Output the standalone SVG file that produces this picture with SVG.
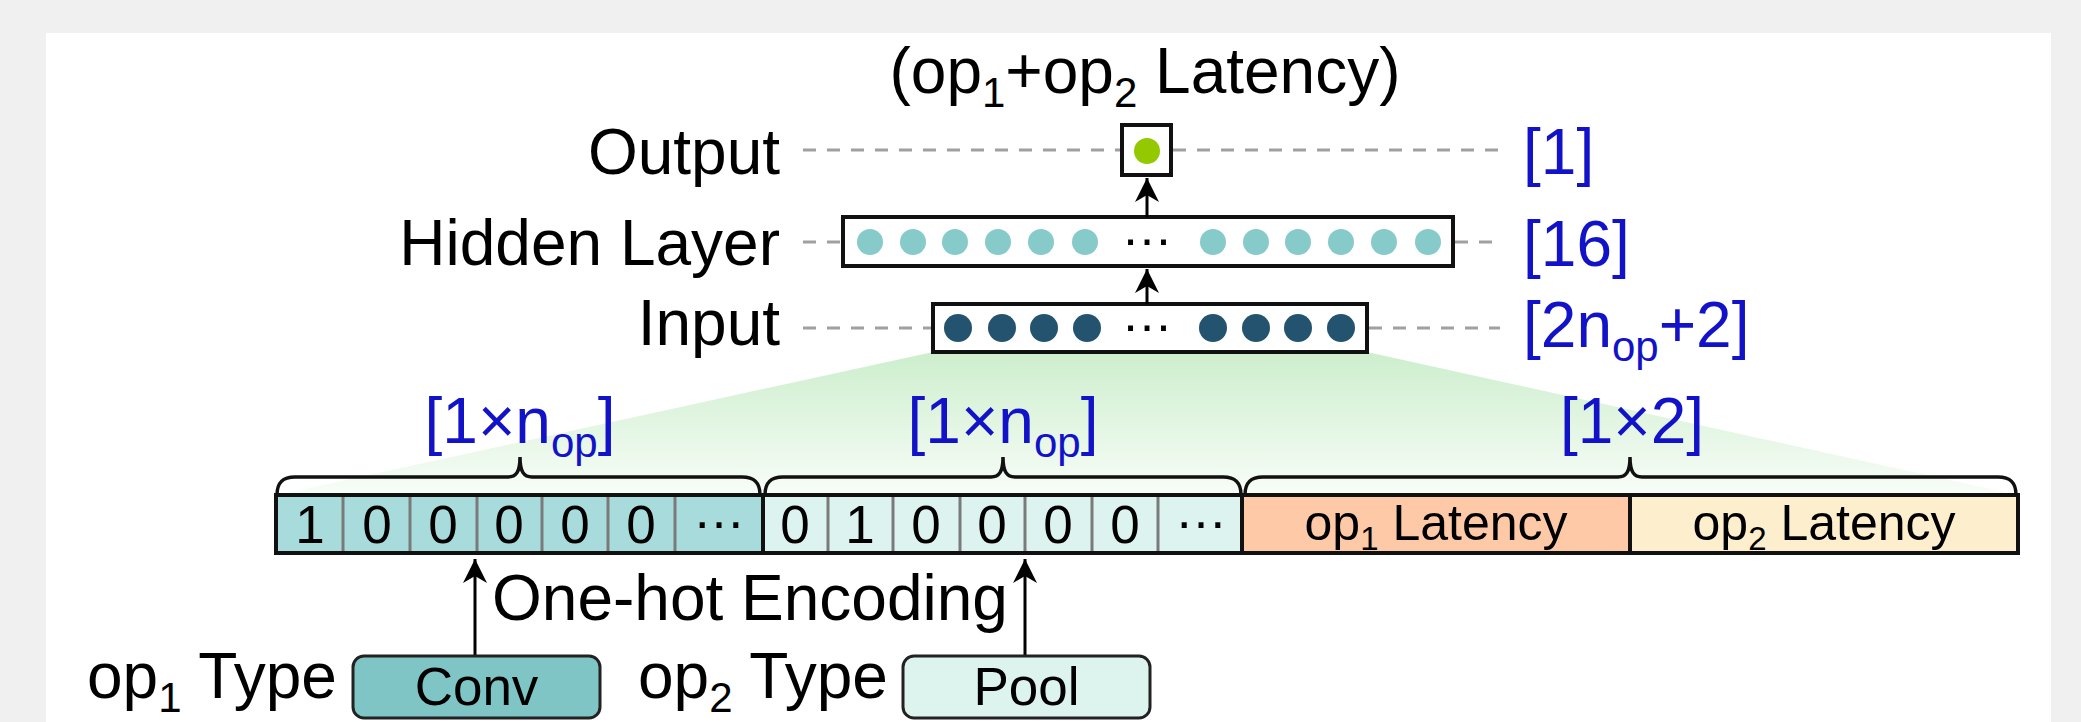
<svg xmlns="http://www.w3.org/2000/svg" width="2081" height="722" viewBox="0 0 2081 722">
<defs>
<linearGradient id="fan" gradientUnits="userSpaceOnUse" x1="0" y1="352" x2="0" y2="495">
<stop offset="0" stop-color="#cdeecd"/>
<stop offset="1" stop-color="#f8fdf8"/>
</linearGradient>
<marker id="arrow" markerUnits="userSpaceOnUse" markerWidth="26" markerHeight="26" viewBox="0 0 26 26" refX="24" refY="13" orient="auto">
<path d="M0,1 L24,13 L0,25 L7,13 z" fill="#000"/>
</marker>
<style>
text{font-family:"Liberation Sans",Arial,sans-serif;}
.lbl{font-size:64px;fill:#000}
.blue{font-size:64px;fill:#1212c8}
.dash{stroke:#a0a0a0;stroke-width:3;stroke-dasharray:13 11;fill:none}
.layer{fill:#fff;stroke:#111;stroke-width:4}
.hd{fill:#86caca}
.in{fill:#24536f}
.ell{font-size:52px;fill:#000;text-anchor:middle}
.cell{font-size:53px;fill:#000;text-anchor:middle}
.lat{font-size:50px;fill:#000;text-anchor:middle}
.div{stroke:#7a7a7a;stroke-width:3}
.sep{stroke:#111;stroke-width:4}
.brace{fill:none;stroke:#111;stroke-width:3.5}
.conn{stroke:#000;stroke-width:3;fill:none;marker-end:url(#arrow)}
.type{stroke:#222;stroke-width:3}
</style>
</defs>

<g id="background">
<rect x="0" y="0" width="2081" height="722" fill="#f0f0f0"/>
<rect x="46" y="33" width="2005" height="689" fill="#ffffff"/>
</g>

<g id="fan-shading">
<polygon points="933,352 1367,352 2018,495 277,495" fill="url(#fan)"/>
</g>

<g id="title">
<text x="1145" y="93" text-anchor="middle" class="lbl">(op<tspan font-size="42" dy="14">1</tspan><tspan dy="-14">+op</tspan><tspan font-size="42" dy="14">2</tspan><tspan dy="-14"> Latency)</tspan></text>
</g>

<g id="layer-labels">
<text x="780" y="174" text-anchor="end" class="lbl">Output</text>
<text x="780" y="265" text-anchor="end" class="lbl">Hidden Layer</text>
<text x="780" y="345" text-anchor="end" class="lbl">Input</text>
</g>

<g id="guides">
<line class="dash" x1="803" y1="150" x2="1122" y2="150"/>
<line class="dash" x1="1173" y1="150" x2="1500" y2="150"/>
<line class="dash" x1="803" y1="242" x2="843" y2="242"/>
<line class="dash" x1="1455" y1="242" x2="1500" y2="242"/>
<line class="dash" x1="803" y1="328" x2="933" y2="328"/>
<line class="dash" x1="1369" y1="328" x2="1500" y2="328"/>
</g>

<g id="size-labels">
<text x="1523" y="174" class="blue">[1]</text>
<text x="1523" y="266" class="blue">[16]</text>
<text x="1523" y="347" class="blue">[2n<tspan font-size="42" dy="14">op</tspan><tspan dy="-14">+2]</tspan></text>
</g>

<g id="output-node">
<rect class="layer" x="1122" y="125" width="49" height="50"/>
<circle cx="1147" cy="151" r="13" fill="#94c800"/>
</g>

<g id="hidden-node">
<rect class="layer" x="843" y="217" width="610" height="49"/>
<circle class="hd" cx="870" cy="242" r="13"/>
<circle class="hd" cx="913" cy="242" r="13"/>
<circle class="hd" cx="955" cy="242" r="13"/>
<circle class="hd" cx="998" cy="242" r="13"/>
<circle class="hd" cx="1041" cy="242" r="13"/>
<circle class="hd" cx="1085" cy="242" r="13"/>
<text class="ell" x="1147" y="245">…</text>
<circle class="hd" cx="1213" cy="242" r="13"/>
<circle class="hd" cx="1256" cy="242" r="13"/>
<circle class="hd" cx="1298" cy="242" r="13"/>
<circle class="hd" cx="1341" cy="242" r="13"/>
<circle class="hd" cx="1384" cy="242" r="13"/>
<circle class="hd" cx="1428" cy="242" r="13"/>
</g>

<g id="input-node">
<rect class="layer" x="933" y="304" width="434" height="48"/>
<circle class="in" cx="958" cy="328" r="14"/>
<circle class="in" cx="1002" cy="328" r="14"/>
<circle class="in" cx="1044" cy="328" r="14"/>
<circle class="in" cx="1087" cy="328" r="14"/>
<text class="ell" x="1147" y="331">…</text>
<circle class="in" cx="1213" cy="328" r="14"/>
<circle class="in" cx="1256" cy="328" r="14"/>
<circle class="in" cx="1298" cy="328" r="14"/>
<circle class="in" cx="1341" cy="328" r="14"/>
</g>

<g id="braces">
<path class="brace" d="M277,495 C277,482 283,477 295,477 L508,477 C516,477 520,472 520,457 C520,472 524,477 532,477 L742,477 C754,477 760,482 760,495"/>
<path class="brace" d="M765,495 C765,482 771,477 783,477 L991,477 C999,477 1003,472 1003,457 C1003,472 1007,477 1015,477 L1223,477 C1235,477 1241,482 1241,495"/>
<path class="brace" d="M1245,495 C1245,482 1251,477 1263,477 L1618,477 C1626,477 1630,472 1630,457 C1630,472 1634,477 1642,477 L1998,477 C2010,477 2016,482 2016,495"/>
<text x="520" y="443" text-anchor="middle" class="blue">[1×n<tspan font-size="42" dy="14">op</tspan><tspan dy="-14">]</tspan></text>
<text x="1003" y="443" text-anchor="middle" class="blue">[1×n<tspan font-size="42" dy="14">op</tspan><tspan dy="-14">]</tspan></text>
<text x="1632" y="443" text-anchor="middle" class="blue">[1×2]</text>
</g>

<g id="feature-vector">
<rect x="276" y="495" width="487" height="58" fill="#a8dcdc"/>
<rect x="763" y="495" width="479" height="58" fill="#dcf3ef"/>
<rect x="1242" y="495" width="388" height="58" fill="#fdc9a7"/>
<rect x="1630" y="495" width="388" height="58" fill="#fdeecd"/>
<line class="div" x1="343" y1="497" x2="343" y2="551"/>
<line class="div" x1="410" y1="497" x2="410" y2="551"/>
<line class="div" x1="477" y1="497" x2="477" y2="551"/>
<line class="div" x1="542" y1="497" x2="542" y2="551"/>
<line class="div" x1="608" y1="497" x2="608" y2="551"/>
<line class="div" x1="675" y1="497" x2="675" y2="551"/>
<line class="div" x1="828" y1="497" x2="828" y2="551"/>
<line class="div" x1="893" y1="497" x2="893" y2="551"/>
<line class="div" x1="960" y1="497" x2="960" y2="551"/>
<line class="div" x1="1025" y1="497" x2="1025" y2="551"/>
<line class="div" x1="1092" y1="497" x2="1092" y2="551"/>
<line class="div" x1="1158" y1="497" x2="1158" y2="551"/>
<line class="sep" x1="763" y1="495" x2="763" y2="553"/>
<line class="sep" x1="1242" y1="495" x2="1242" y2="553"/>
<line class="sep" x1="1630" y1="495" x2="1630" y2="553"/>
<rect x="276" y="495" width="1742" height="58" fill="none" stroke="#111" stroke-width="4"/>
<text class="cell" x="310" y="543">1</text>
<text class="cell" x="377" y="543">0</text>
<text class="cell" x="443" y="543">0</text>
<text class="cell" x="509" y="543">0</text>
<text class="cell" x="575" y="543">0</text>
<text class="cell" x="641" y="543">0</text>
<text class="cell" x="719" y="528">…</text>
<text class="cell" x="795" y="543">0</text>
<text class="cell" x="860" y="543">1</text>
<text class="cell" x="926" y="543">0</text>
<text class="cell" x="992" y="543">0</text>
<text class="cell" x="1058" y="543">0</text>
<text class="cell" x="1125" y="543">0</text>
<text class="cell" x="1201" y="528">…</text>
<text class="lat" x="1436" y="540">op<tspan font-size="33" dy="10">1</tspan><tspan dy="-10"> Latency</tspan></text>
<text class="lat" x="1824" y="540">op<tspan font-size="33" dy="10">2</tspan><tspan dy="-10"> Latency</tspan></text>
</g>

<g id="connectors">
<line class="conn" x1="1147" y1="304" x2="1147" y2="269"/>
<line class="conn" x1="1147" y1="217" x2="1147" y2="178"/>
<line class="conn" x1="475" y1="656" x2="475" y2="559"/>
<line class="conn" x1="1025" y1="656" x2="1025" y2="559"/>
</g>

<g id="encoding-label">
<text x="492" y="620" class="lbl">One-hot Encoding</text>
</g>

<g id="op1-type">
<text x="87" y="698" class="lbl">op<tspan font-size="42" dy="14">1</tspan><tspan dy="-14"> Type</tspan></text>
<rect class="type" x="353" y="656" width="247" height="62" rx="11" fill="#7fc5c6"/>
<text x="476.5" y="705" text-anchor="middle" font-size="53" fill="#000">Conv</text>
</g>

<g id="op2-type">
<text x="638" y="698" class="lbl">op<tspan font-size="42" dy="14">2</tspan><tspan dy="-14"> Type</tspan></text>
<rect class="type" x="903" y="656" width="247" height="62" rx="11" fill="#dcf3ee"/>
<text x="1026.5" y="705" text-anchor="middle" font-size="53" fill="#000">Pool</text>
</g>
</svg>
